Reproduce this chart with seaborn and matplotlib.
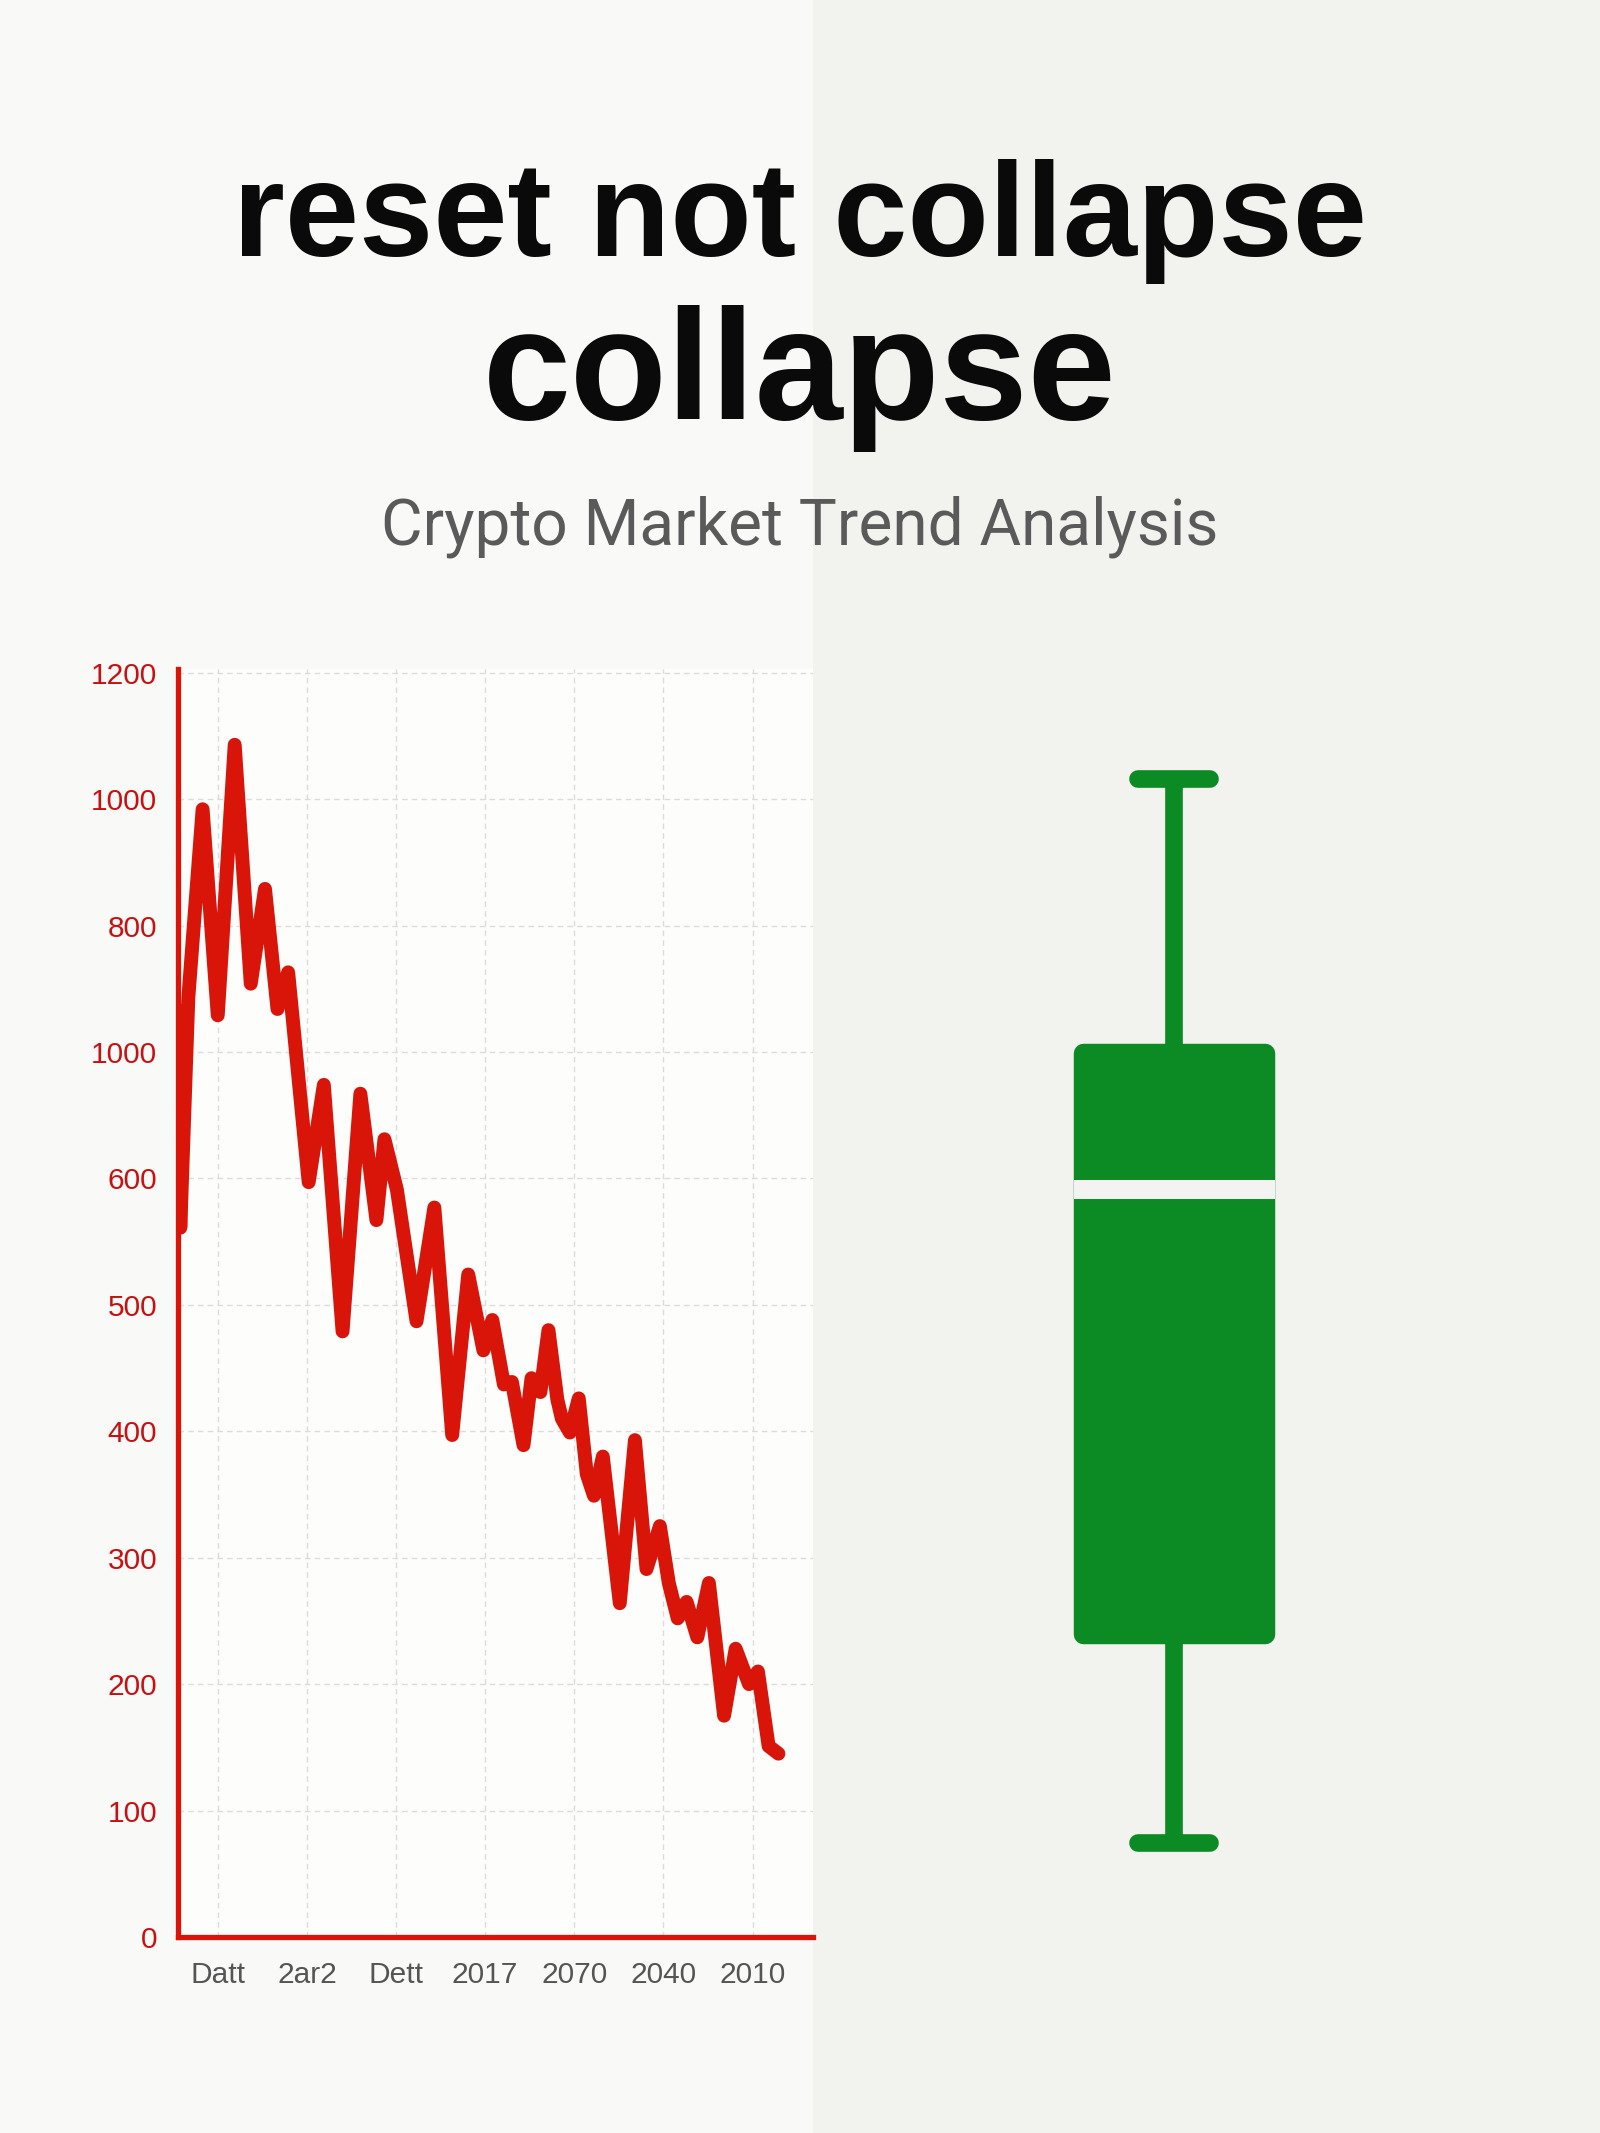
import matplotlib.pyplot as plt
from matplotlib.patches import Rectangle
import seaborn as sns

# %% data (y in plotted axis units, the axis prints its own odd labels)
price_x = [-0.45, -0.42, -0.33, -0.17, 0.00, 0.19, 0.37, 0.53, 0.67, 0.79,
           1.02, 1.19, 1.40, 1.60, 1.78, 1.87, 2.01, 2.23, 2.43, 2.63,
           2.81, 2.98, 3.08, 3.21, 3.30, 3.43, 3.52, 3.62, 3.71, 3.81,
           3.86, 3.95, 4.05, 4.14, 4.22, 4.32, 4.51, 4.68, 4.81, 4.96,
           5.06, 5.16, 5.26, 5.38, 5.51, 5.68, 5.81, 5.96, 6.06, 6.18, 6.29]
price_y = [733, 561, 743, 892, 729, 943, 754, 829, 734, 763,
           597, 674, 479, 667, 567, 631, 591, 487, 577, 397,
           524, 464, 488, 437, 439, 389, 442, 431, 480, 425,
           410, 399, 426, 366, 349, 380, 264, 393, 291, 325,
           280, 252, 265, 237, 280, 175, 228, 200, 210, 151, 145]

x_labels = ["Datt", "2ar2", "Dett", "2017", "2070", "2040", "2010"]
y_labels = ["0", "100", "200", "300", "400", "500", "600",
            "1000", "800", "1000", "1200"]

# whisker low, Q1, median, Q3, whisker high
box_values = [74, 240, 592, 699, 916]

red = "#d9150a"
green = "#0c8a24"

# %% figure
sns.set_theme(style="white")
plt.rcParams["font.family"] = ["Liberation Sans", "DejaVu Sans"]

fig = plt.figure(figsize=(16, 21.33), dpi=100)
fig.patch.set_facecolor("#f2f2ef")
fig.patches.append(Rectangle((0, 0), 0.508, 1, transform=fig.transFigure,
                             facecolor="#f9f9f7", edgecolor="none", zorder=-10))

fig.text(0.5, 1 - 256 / 2133, "reset not collapse", ha="center", va="baseline",
         fontsize=96, fontweight="bold", color="#0a0a0a")
fig.text(0.5, 1 - 419 / 2133, "collapse", ha="center", va="baseline",
         fontsize=114, fontweight="bold", color="#0a0a0a")
fig.text(0.5, 1 - 544 / 2133, "Crypto Market Trend Analysis", ha="center",
         va="baseline", fontsize=46, color="#5a5a5a", family=["Roboto", "DejaVu Sans"])

# %% line chart
ax = fig.add_axes([0.11125, 0.0919, 0.397, 0.5945])
ax.set_facecolor("#fdfdfc")
sns.lineplot(x=price_x, y=price_y, ax=ax, sort=False, estimator=None,
             color=red, linewidth=10, solid_joinstyle="round",
             solid_capstyle="round", zorder=3)

ax.set_xlim(-0.446, 6.68)
ax.set_ylim(0, 1003)
ax.set_xticks(range(len(x_labels)))
ax.set_xticklabels(x_labels)
ax.set_yticks(range(0, 1001, 100))
ax.set_yticklabels(y_labels)
ax.grid(True, color="#dcdcdc", linestyle=(0, (4, 3)), linewidth=1)

for side in ["top", "right"]:
    ax.spines[side].set_visible(False)
for side in ["left", "bottom"]:
    ax.spines[side].set_color(red)
    ax.spines[side].set_linewidth(3.8)
    ax.spines[side].set_zorder(4)

ax.tick_params(axis="y", direction="in", length=12, width=3.2, color=red,
               labelcolor="#c81010", labelsize=21.5, pad=15)
ax.tick_params(axis="x", direction="in", length=12, width=3.2, color=red,
               labelcolor="#555555", labelsize=21.5, pad=17)

# %% box plot
ax2 = fig.add_axes([0.60875, 0.0919, 0.25, 0.5945])
sns.boxplot(y=box_values, ax=ax2, whis=(0, 100), width=0.456, color=green,
            linecolor=green, saturation=1, fill=True, linewidth=14,
            capwidths=0.18,
            boxprops=dict(joinstyle="round"),
            whiskerprops=dict(linewidth=12.7),
            capprops=dict(linewidth=12.7, solid_capstyle="round"),
            medianprops=dict(color="#f3f3f1", linewidth=13.7,
                             solid_capstyle="projecting", zorder=5))
ax2.set_xlim(-0.5, 0.5)
ax2.set_ylim(0, 1003)
ax2.axis("off")

fig.savefig("out.png", dpi=100, facecolor=fig.get_facecolor())
